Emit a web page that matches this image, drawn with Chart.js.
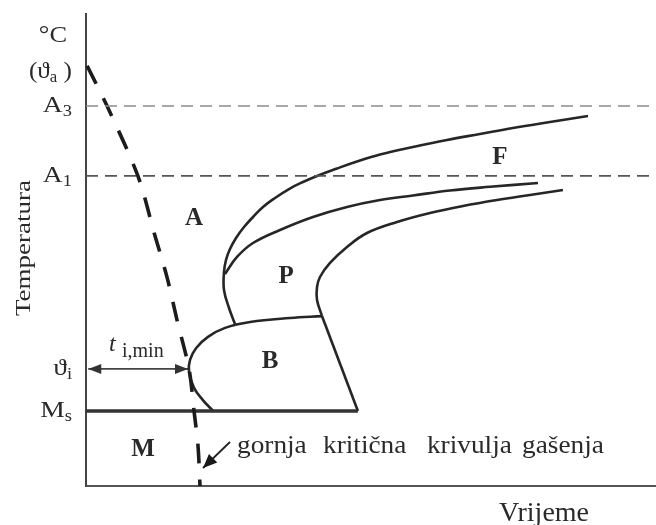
<!DOCTYPE html>
<html><head><meta charset="utf-8">
<script src="https://cdn.jsdelivr.net/npm/chart.js@4/dist/chart.umd.min.js"></script>
<style>html,body{margin:0;padding:0;background:#fff}#wrap{width:656px;height:525px;position:relative}</style>
</head><body><div id="wrap"><canvas id="c"></canvas></div>
<script>
// ---- data (time and temperature in arbitrary schematic units) ----
const timeRange = [0, 100];
const tempRange = [0, 100];
// characteristic temperatures
const levelBase  = ['A', 'A', 'ϑ', 'M'];
const levelSub   = ['3', '1', 'i', 's'];
const levelTemps = [80.5, 65.7, 24.8, 15.9];
const startTemp  = 88.1;   // ϑa
// upper critical cooling curve (gornja kritična krivulja gašenja)
const criticalCurve = [[0.2,89.0],[3.7,80.5],[9.1,65.7],[12.1,53.0],[14.2,44.3],[15.96,35.2],[18.07,24.8],[18.95,15.9],[19.65,8.5],[20.0,0]];
// martensite start line end
const msEndTime = 47.7;
// bainite start (nose) and finish
const bainiteStart  = [[22.3,15.9],[20.5,18.2],[18.95,20.8],[18.07,24.15],[18.25,26.7],[19.3,29.2],[21.4,31.6],[24.4,33.5],[28.8,34.75],[35.8,35.6],[41.4,36.0]];
const bainiteFinish = [[41.4,36.0],[47.7,15.9]];
// ferrite start, pearlite start, pearlite finish
const ferriteStart  = [[26.14,34.32],[25.09,37.71],[24.21,41.53],[24.21,45.34],[24.56,47.88],[25.26,50.21],[26.32,52.54],[27.72,54.87],[29.3,56.99],[31.05,59.11],[33.16,61.02],[35.61,62.92],[38.07,64.41],[40.53,65.68],[44.04,67.27],[47.54,68.75],[51.58,70.23],[57.37,71.82],[63.33,73.31],[69.12,74.58],[74.91,75.85],[81.4,77.12],[88.07,78.39]];
const pearliteStart = [[24.39,44.92],[26.49,48.52],[29.3,51.48],[34.04,54.24],[39.82,56.99],[45.79,59.11],[51.58,60.59],[57.37,61.55],[63.86,62.61],[70.88,63.39],[79.3,64.19]];
const pearliteEnd   = [[41.4,36.02],[40.53,39.41],[40.53,42.16],[41.05,44.28],[42.81,47.25],[45.79,50.64],[49.3,53.6],[54.56,55.93],[60.35,57.84],[66.14,59.32],[72.11,60.59],[77.89,61.65],[83.68,62.71]];
// t_i,min arrow (time span at ϑi) and pointer to the critical curve
const tiMinSpan = [0.4, 17.9];
const pointerArrow = [[25.26,9.32],[20.53,3.81]];
// region labels
const regionNames = ['A','P','F','B','M'];
const regionPos   = [[18.95,56.57],[35.09,44.28],[72.63,69.49],[32.28,26.27],[10.0,7.63]];
const noteWords   = ['gornja','kritična','krivulja','gašenja'];
const noteWordTimes = [26.49, 41.58, 59.82, 76.49];
const noteTemp = 6.99;

const pts = a => a.map(p => ({x:p[0], y:p[1]}));
const ink = '#262626';
const curve = (data, extra) => Object.assign({data: pts(data), showLine:true, borderColor:ink, borderWidth:2.6, pointRadius:0, tension:0.4, fill:false}, extra||{});

const datasets = [
  curve([[timeRange[0],levelTemps[0]],[timeRange[1],levelTemps[0]]], {borderColor:'#8c8c8c', borderWidth:1.6, borderDash:[12,7], tension:0}),
  curve([[timeRange[0],levelTemps[1]],[timeRange[1],levelTemps[1]]], {borderColor:'#555', borderWidth:1.6, borderDash:[12,7], tension:0}),
  curve(criticalCurve, {borderDash:[20,16], borderWidth:3.6, borderColor:'#1c1c1c', tension:0.3}),
  curve([[timeRange[0],levelTemps[3]],[msEndTime,levelTemps[3]]], {borderWidth:3.4, borderColor:'#333', tension:0}),
  curve(bainiteStart),
  curve(bainiteFinish, {tension:0}),
  curve(ferriteStart),
  curve(pearliteStart),
  curve(pearliteEnd),
  curve([[tiMinSpan[0],levelTemps[2]],[tiMinSpan[1],levelTemps[2]]], {borderWidth:1.8, borderColor:'#444', tension:0}),
  curve(pointerArrow, {borderWidth:1.8, borderColor:'#222', tension:0})
];

function arrowHead(ctx, x1, y1, x2, y2, len, half) {
  const a = Math.atan2(y2-y1, x2-x1);
  ctx.beginPath();
  ctx.moveTo(x2, y2);
  ctx.lineTo(x2 - len*Math.cos(a) + half*Math.sin(a), y2 - len*Math.sin(a) - half*Math.cos(a));
  ctx.lineTo(x2 - len*Math.cos(a) - half*Math.sin(a), y2 - len*Math.sin(a) + half*Math.cos(a));
  ctx.closePath(); ctx.fill();
}
function drawRich(ctx, segs, rightX, cy, size, subSize, sx) {
  const f = s => s + 'px "Liberation Serif", "Times New Roman", serif';
  let w = 0;
  segs.forEach(s => { ctx.font = f(s.sub ? subSize : size); s.w = ctx.measureText(s.t).width * sx; w += s.w; });
  let x = rightX - w;
  segs.forEach(s => {
    ctx.font = f(s.sub ? subSize : size);
    ctx.save(); ctx.translate(x, cy + (s.sub ? 6 : 0)); ctx.scale(sx, 1);
    ctx.textAlign = 'left'; ctx.textBaseline = 'middle';
    ctx.fillText(s.t, 0, 0); ctx.restore();
    x += s.w;
  });
}

const annot = {
  id: 'annot',
  afterDatasetsDraw(chart) {
    const {ctx, scales:{x, y}} = chart;
    const X = v => x.getPixelForValue(v), Y = v => y.getPixelForValue(v);
    ctx.save();
    ctx.fillStyle = '#333';
    // arrowheads of t_i,min
    const yi = Y(levelTemps[2]);
    arrowHead(ctx, X(tiMinSpan[1]), yi, X(tiMinSpan[0]), yi, 13, 5);
    arrowHead(ctx, X(tiMinSpan[0]), yi, X(tiMinSpan[1]), yi, 13, 5);
    ctx.fillStyle = '#1a1a1a';
    arrowHead(ctx, X(pointerArrow[0][0]), Y(pointerArrow[0][1]), X(pointerArrow[1][0]), Y(pointerArrow[1][1]), 14, 6);

    ctx.fillStyle = '#2a2a2a';
    // y level labels
    const left = 72;
    drawRich(ctx, [{t:'°C'}], 67, 36, 24, 16, 1.1);
    drawRich(ctx, [{t:'(ϑ'},{t:'a',sub:true},{t:' )'}], left, Y(startTemp)+2, 24, 16, 1.05);
    levelBase.forEach((b, i) => drawRich(ctx, [{t:b},{t:levelSub[i],sub:true}], left, Y(levelTemps[i]), 24, 16, 1.15));

    // t_i,min label
    ctx.textBaseline = 'middle'; ctx.textAlign = 'left';
    ctx.font = 'italic 24px "Liberation Serif", serif';
    ctx.fillText('t', 109, 345);
    ctx.font = '20px "Liberation Serif", serif';
    ctx.fillText('i,min', 122, 352);

    // region labels
    ctx.textAlign = 'center';
    ctx.font = 'bold 25px "Liberation Serif", serif';
    regionNames.forEach((n, i) => ctx.fillText(n, X(regionPos[i][0]), Y(regionPos[i][1])));

    // note text
    ctx.textAlign = 'left'; ctx.textBaseline = 'alphabetic';
    ctx.font = '26px "Liberation Serif", serif';
    noteWords.forEach((w, i) => {
      ctx.save(); ctx.translate(X(noteWordTimes[i]), Y(noteTemp)); ctx.scale(1.05, 1);
      ctx.fillText(w, 0, 0); ctx.restore();
    });

    // axis titles
    ctx.font = '28px "Liberation Serif", serif';
    ctx.textAlign = 'center';
    ctx.fillText('Vrijeme', 544, 521);
    ctx.save();
    ctx.translate(24, 248); ctx.rotate(-Math.PI/2); ctx.scale(1, 0.8);
    ctx.font = '27px "Liberation Serif", serif';
    ctx.textBaseline = 'middle';
    ctx.fillText('Temperatura', 0, 0);
    ctx.restore();
    ctx.restore();
  }
};

new Chart(document.getElementById('c'), {
  type: 'scatter',
  data: { datasets },
  options: {
    responsive: true, maintainAspectRatio: false, animation: false,
    layout: { padding: { left: 86, top: 14, right: 0, bottom: 39 } },
    plugins: { legend: {display:false}, tooltip: {enabled:false} },
    datasets: { scatter: { clip: false } },
    scales: {
      x: { type:'linear', min: timeRange[0], max: timeRange[1], ticks:{display:false}, grid:{display:false, drawTicks:false}, border:{display:true, color:'#555', width:2} },
      y: { type:'linear', min: tempRange[0], max: tempRange[1], ticks:{display:false}, grid:{display:false, drawTicks:false}, border:{display:true, color:'#444', width:2} }
    }
  },
  plugins: [annot]
});
</script>
</body></html>
